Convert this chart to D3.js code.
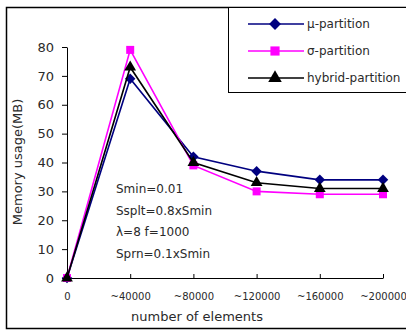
<!DOCTYPE html>
<html>
<head>
<meta charset="utf-8">
<script src="https://cdn.jsdelivr.net/npm/d3@7"></script>
<style>
  body { margin: 0; background: #fff; }
  text { font-family: "DejaVu Sans", sans-serif; fill: #2a2a2a; }
</style>
</head>
<body>
<script>
// data
var categories = ['0', '~40000', '~80000', '~120000', '~160000', '~200000'];
var muValues = [0, 69, 42, 37, 34, 34];
var sigmaValues = [0, 79, 39, 30, 29, 29];
var hybridValues = [0, 73, 40, 33, 31, 31];
var yTicks = [0, 10, 20, 30, 40, 50, 60, 70, 80];
var notes = ['Smin=0.01', 'Ssplt=0.8xSmin', 'λ=8 f=1000', 'Sprn=0.1xSmin'];

var series = [
  {name: 'μ-partition', values: muValues, color: '#000080', shape: d3.symbolDiamond2, size: 70},
  {name: 'σ-partition', values: sigmaValues, color: '#ff00ff', shape: d3.symbolSquare, size: 64},
  {name: 'hybrid-partition', values: hybridValues, color: '#000000', shape: d3.symbolTriangle, size: 60}
];

var W = 406, H = 332;
var svg = d3.select('body').append('svg')
  .attr('width', W).attr('height', H);

// outer frame
svg.append('rect')
  .attr('x', 6.5).attr('y', 7.5).attr('width', 410).attr('height', 321)
  .attr('fill', 'none').attr('stroke', '#000').attr('stroke-width', 1.5);

var x = d3.scalePoint().domain(categories).range([67, 383]);
var y = d3.scaleLinear().domain([0, 80]).range([278, 47]);

// y axis
var yAxis = svg.append('g').attr('transform', 'translate(67,0)')
  .call(d3.axisLeft(y).tickValues(yTicks).tickSize(5).tickPadding(8).tickSizeOuter(0));
yAxis.select('.domain').attr('stroke', '#000');
yAxis.selectAll('text').style('font-size', '13px');

// x axis, ticks point up
var xAxis = svg.append('g').attr('transform', 'translate(0,278)')
  .call(d3.axisBottom(x).tickSize(0).tickPadding(0).tickSizeOuter(0));
xAxis.select('.domain').attr('stroke', '#000');
xAxis.selectAll('.tick line').attr('y2', -4).attr('stroke', '#000');
xAxis.selectAll('.tick text').attr('y', 22).style('font-size', '10px').attr('dy', 0);

svg.append('text')
  .attr('x', 197).attr('y', 321)
  .attr('text-anchor', 'middle')
  .style('font-size', '13px')
  .text('number of elements');

svg.append('text')
  .attr('transform', 'translate(22,162) rotate(-90)')
  .attr('text-anchor', 'middle')
  .style('font-size', '13px')
  .text('Memory usage(MB)');

// annotation text
svg.selectAll('.note').data(notes).enter().append('text')
  .attr('class', 'note')
  .attr('x', 116)
  .attr('y', function(d, i) { return 193 + i * 21.5; })
  .style('font-size', '12px')
  .text(function(d) { return d; });

var line = d3.line()
  .x(function(d, i) { return x(categories[i]); })
  .y(function(d) { return y(d); });

series.forEach(function(s) {
  svg.append('path')
    .attr('d', line(s.values))
    .attr('fill', 'none')
    .attr('stroke', s.color)
    .attr('stroke-width', 1.6);
  svg.selectAll(null).data(s.values).enter().append('path')
    .attr('d', d3.symbol().type(s.shape).size(s.size))
    .attr('transform', function(d, i) { return 'translate(' + x(categories[i]) + ',' + y(d) + ')'; })
    .attr('fill', s.color);
});

// legend
var legend = svg.append('g');
legend.append('rect')
  .attr('x', 228.5).attr('y', 7.5).attr('width', 190).attr('height', 85)
  .attr('fill', '#fff').attr('stroke', '#000').attr('stroke-width', 1);
series.forEach(function(s, i) {
  var ly = 24 + i * 27;
  legend.append('line')
    .attr('x1', 248).attr('x2', 304).attr('y1', ly).attr('y2', ly)
    .attr('stroke', s.color).attr('stroke-width', 1.6);
  legend.append('path')
    .attr('d', d3.symbol().type(s.shape).size(s.size + 20))
    .attr('transform', 'translate(275,' + ly + ')')
    .attr('fill', s.color);
  legend.append('text')
    .attr('x', 307).attr('y', ly + 4)
    .style('font-size', '12px')
    .text(s.name);
});
</script>
</body>
</html>
